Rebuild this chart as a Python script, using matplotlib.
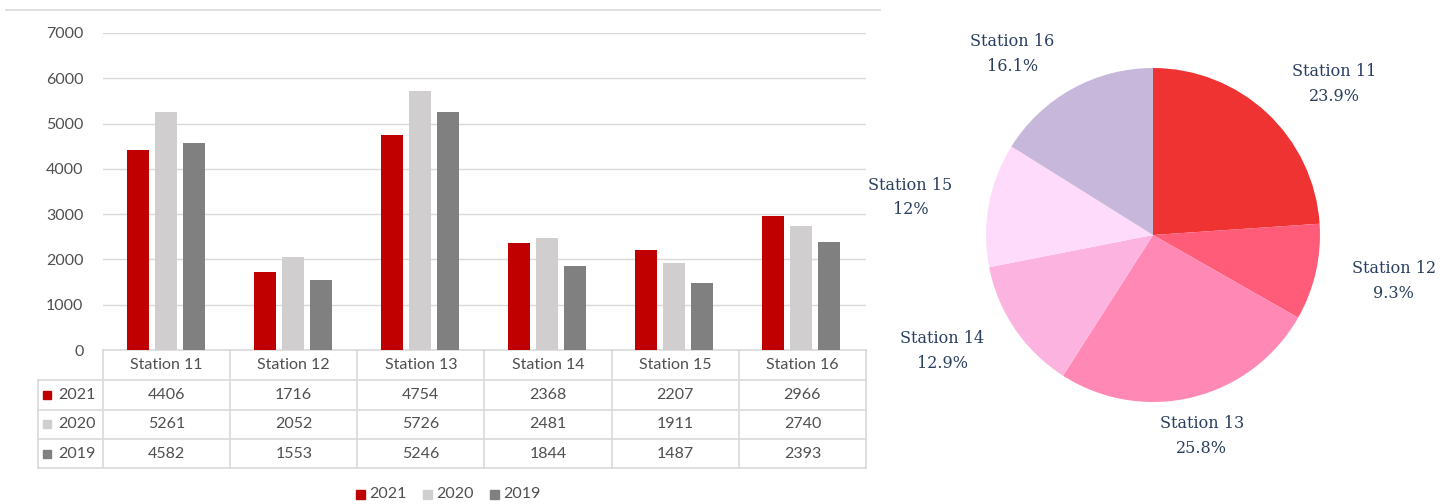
"""Station counts 2019-2021: Excel-style bar chart with data table, plus 2021 share pie."""

import matplotlib

matplotlib.use("Agg")
import matplotlib.pyplot as plt  # noqa: E402
import numpy as np  # noqa: E402

stations = ["Station 11", "Station 12", "Station 13", "Station 14", "Station 15", "Station 16"]
years = ["2021", "2020", "2019"]
v2021 = [4406, 1716, 4754, 2368, 2207, 2966]
v2020 = [5261, 2052, 5726, 2481, 1911, 2740]
v2019 = [4582, 1553, 5246, 1844, 1487, 2393]
yticks = [0, 1000, 2000, 3000, 4000, 5000, 6000, 7000]

bar_colors = ["#C00000", "#D0CECE", "#808080"]
pie_colors = ["#EF3333", "#FF5C7A", "#FF89B4", "#FDB3DF", "#FFDBFB", "#C7B8DB"]
grid_c = "#D9D9D9"
txt_c = "#505050"
pie_txt = "#2A3F5F"

W, H = 1450, 504
fig = plt.figure(figsize=(W / 100, H / 100), dpi=100)
XL = "Lato"


def frac(x0, y0, x1, y1):
    # pixel box (top-left origin) -> figure fraction rect
    return [x0 / W, (H - y1) / H, (x1 - x0) / W, (y1 - y0) / H]


# ---- bar chart ----
left, right, top, base = 103, 866, 33, 350
ax = fig.add_axes(frac(left, top, right, base))
series = [v2021, v2020, v2019]
n = len(stations)
x = np.arange(n) + 0.5
col_w = (right - left) / n
off = 28 / col_w
bw = 22 / col_w
for k, (vals, c) in enumerate(zip(series, bar_colors)):
    ax.bar(x + (k - 1) * off - 1 / col_w, vals, width=bw, color=c, zorder=3)
ax.set_xlim(0, n)
ax.set_ylim(0, 7000)
ax.set_yticks(yticks)
ax.set_yticklabels([str(t) for t in yticks], fontsize=11.5, color=txt_c, family=XL)
ax.tick_params(axis="y", length=0, pad=14)
ax.set_xticks([])
for t in yticks[1:]:
    ax.axhline(t, color=grid_c, lw=1, zorder=1)
for s in ax.spines.values():
    s.set_visible(False)
ax.patch.set_alpha(0)

# ---- overlay in pixel coords: table, legend, frame line ----
ov = fig.add_axes([0, 0, 1, 1], zorder=-1)
ov.set_xlim(0, W)
ov.set_ylim(H, 0)
ov.axis("off")
ov.plot([6, 880], [10, 10], color=grid_c, lw=1.2)

rows_y = [350, 380, 409.5, 439, 468]
tab_left = 38
edges = [left + i * col_w for i in range(n + 1)]
ov.plot([left, right], [rows_y[0]] * 2, color=grid_c, lw=1.2)
for yy in rows_y[1:]:
    ov.plot([tab_left, right], [yy, yy], color=grid_c, lw=1.2)
for xx in edges:
    ov.plot([xx, xx], [rows_y[0], rows_y[-1]], color=grid_c, lw=1.2)
ov.plot([tab_left, tab_left], [rows_y[1], rows_y[-1]], color=grid_c, lw=1.2)

for i, name in enumerate(stations):
    cx = left + (i + 0.5) * col_w
    ov.text(cx, (rows_y[0] + rows_y[1]) / 2, name, ha="center", va="center",
            fontsize=11.5, color=txt_c, family=XL)
    for r, vals in enumerate(series):
        ov.text(cx, (rows_y[r + 1] + rows_y[r + 2]) / 2, str(vals[i]), ha="center",
                va="center", fontsize=11.5, color=txt_c, family=XL)
for r, (yr, c) in enumerate(zip(years, bar_colors)):
    cy = (rows_y[r + 1] + rows_y[r + 2]) / 2
    ov.add_patch(plt.Rectangle((43, cy - 4), 8, 8, color=c))
    ov.text(58, cy, yr, ha="left", va="center", fontsize=11.5, color=txt_c, family=XL)

# bottom legend
lx = 356
for yr, c in zip(years, bar_colors):
    ov.add_patch(plt.Rectangle((lx, 490), 9, 9, color=c))
    ov.text(lx + 13, 494.5, yr, ha="left", va="center", fontsize=11.5,
            color=txt_c, family=XL)
    lx += 67

# ---- pie (2021 share) ----
cx, cy, rad = 1153, 235, 167
pax = fig.add_axes(frac(cx - rad, cy - rad, cx + rad, cy + rad))
wedges, _ = pax.pie(v2021, colors=pie_colors, startangle=90, counterclock=False,
                    radius=1, wedgeprops=dict(linewidth=0))
pax.set_xlim(-1, 1)
pax.set_ylim(-1, 1)
pax.set_aspect("equal")
pax.axis("off")
total = sum(v2021)
half_h = 23 / rad
for w, name, v in zip(wedges, stations, v2021):
    pct = f"{100 * v / total:.1f}".rstrip("0").rstrip(".")
    ang = np.deg2rad((w.theta1 + w.theta2) / 2)
    c, s = np.cos(ang), np.sin(ang)
    px, py = 1.22 * c, 1.1 * s + s * half_h
    ha = "left" if c > 0.25 else ("right" if c < -0.25 else "center")
    pax.text(px, py, f"{name}\n{pct}%", ha=ha, va="center", multialignment="center",
             fontsize=11.5, color=pie_txt, family="DejaVu Serif", linespacing=1.6,
             clip_on=False)

fig.savefig("out.png", dpi=100)
